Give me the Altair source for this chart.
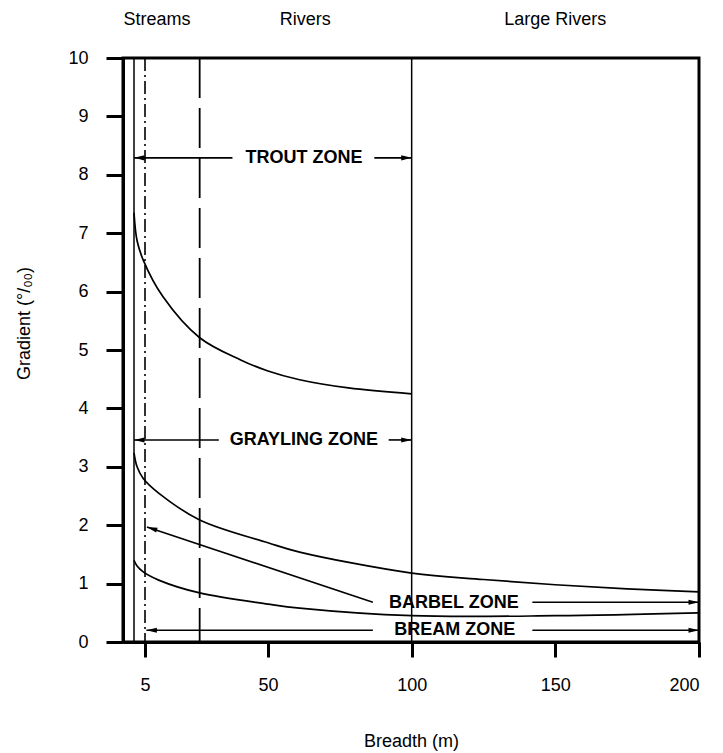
import altair as alt
import pandas as pd

FONT = "Liberation Sans"

# Zone boundary curves: breadth (m) against gradient (per mille)
trout_breadth = [2.5, 3.2, 4.6, 11.6, 25, 40, 50, 61, 78, 100]
trout_gradient = [7.35, 6.87, 6.54, 5.91, 5.21, 4.83, 4.64, 4.49, 4.35, 4.25]

grayling_breadth = [2.5, 3.2, 4.6, 10, 25, 50, 61, 100, 125, 150, 175, 200]
grayling_gradient = [3.24, 3.0, 2.8, 2.55, 2.09, 1.70, 1.54, 1.18, 1.07, 0.98, 0.91, 0.86]

barbel_breadth = [2.5, 3.2, 4.6, 10, 25, 50, 61, 100, 150, 200]
barbel_gradient = [1.40, 1.30, 1.20, 1.06, 0.84, 0.65, 0.58, 0.45, 0.45, 0.50]

# Vertical reference lines (breadth)
solid_lines = [2.5, 100]
dashdot_lines = [5]
dashed_lines = [25]

# Zone names and where they sit
zone_names = ["TROUT ZONE", "GRAYLING ZONE", "BARBEL ZONE", "BREAM ZONE"]
zone_breadth = [62.5, 62.5, 114.7, 115]
zone_gradient = [8.29, 3.46, 0.67, 0.2]

# Arrows: tail -> tip
arrow_tail_b = [37, 87, 32, 92, 86.5, 142, 86.5, 142]
arrow_tail_g = [8.29, 8.29, 3.46, 3.46, 0.68, 0.68, 0.2, 0.2]
arrow_tip_b = [2.5, 100, 2.5, 100, 5.7, 200, 5.5, 200]
arrow_tip_g = [8.29, 8.29, 3.46, 3.46, 1.97, 0.68, 0.2, 0.2]
arrow_dir = ["left", "right", "left", "right", "diag", "right", "left", "right"]

# River size classes above the plot
class_names = ["Streams", "Rivers", "Large Rivers"]
class_breadth = [9.4, 63, 150]

x_ticks = [5, 50, 100, 150, 200]
y_ticks = list(range(0, 11))

curves = pd.concat([
    pd.DataFrame({"breadth": trout_breadth, "gradient": trout_gradient, "curve": "trout"}),
    pd.DataFrame({"breadth": grayling_breadth, "gradient": grayling_gradient, "curve": "grayling"}),
    pd.DataFrame({"breadth": barbel_breadth, "gradient": barbel_gradient, "curve": "barbel"}),
], ignore_index=True)

zones = pd.DataFrame({"name": zone_names, "breadth": zone_breadth, "gradient": zone_gradient})
arrows = pd.DataFrame({
    "b0": arrow_tail_b, "g0": arrow_tail_g,
    "b1": arrow_tip_b, "g1": arrow_tip_g, "dir": arrow_dir,
})
classes = pd.DataFrame({"name": class_names, "breadth": class_breadth})

x_scale = alt.Scale(domain=[0, 5, 50, 200], range=[0, 22, 145, 576], zero=False, nice=False)
y_scale = alt.Scale(domain=[0, 10], nice=False, zero=True)

x_axis = alt.Axis(
    values=x_ticks, title="Breadth (m)", tickSize=15, tickWidth=3, domainWidth=3,
    labelFontSize=18, labelPadding=19, labelFont=FONT, labelColor="black",
    tickColor="black", domainColor="black", grid=False,
    titleFont=FONT, titleFontSize=18, titleFontWeight="normal", titleColor="black",
    titleX=288, titleY=90, titleBaseline="top", titleAlign="center",
)
y_axis = alt.Axis(
    values=y_ticks, title="Gradient  (°/₀₀)", tickSize=17, tickWidth=3, domainWidth=3,
    labelFontSize=18, labelPadding=18, labelFont=FONT, labelColor="black",
    tickColor="black", domainColor="black", grid=False,
    titleFont=FONT, titleFontSize=18, titleFontWeight="normal", titleColor="black",
    titleAngle=270, titleAlign="center", titleBaseline="bottom", titleX=-90, titleY=265,
)


def X(field):
    return alt.X(field, type="quantitative", scale=x_scale, axis=x_axis)


def Y(field):
    return alt.Y(field, type="quantitative", scale=y_scale, axis=y_axis)


curve_layer = alt.Chart(curves).mark_line(
    color="black", strokeWidth=1.7, interpolate="catmull-rom"
).encode(x=X("breadth"), y=Y("gradient"), detail="curve:N")

solid_layer = alt.Chart(pd.DataFrame({"b": solid_lines})).mark_rule(
    color="black", strokeWidth=1.5
).encode(x=X("b"))
dashdot_layer = alt.Chart(pd.DataFrame({"b": dashdot_lines})).mark_rule(
    color="black", strokeWidth=1.6, strokeDash=[13, 4, 2, 4]
).encode(x=X("b"))
dashed_layer = alt.Chart(pd.DataFrame({"b": dashed_lines})).mark_rule(
    color="black", strokeWidth=1.8, strokeDash=[40, 10]
).encode(x=X("b"))

shaft_layer = alt.Chart(arrows).mark_rule(color="black", strokeWidth=1.6).encode(
    x=X("b0"), y=Y("g0"), x2="b1", y2="g1"
)

head_shape = "M0,0L-1,-0.24L-1,0.24Z"
head_angle = {"right": 0, "left": 180, "diag": 198}
head_layers = [
    alt.Chart(arrows[arrows["dir"] == d]).mark_point(
        shape=head_shape, size=440, filled=True, color="black", opacity=1,
        angle=a, strokeWidth=0,
    ).encode(x=X("b1"), y=Y("g1"))
    for d, a in head_angle.items()
]

zone_text = alt.Chart(zones).mark_text(
    font=FONT, fontSize=18, fontWeight="bold", color="black", baseline="middle"
).encode(x=X("breadth"), y=Y("gradient"), text="name:N")

class_text = alt.Chart(classes).mark_text(
    font=FONT, fontSize=18, color="black", baseline="middle"
).encode(x=X("breadth"), y=alt.value(-38), text="name:N")

chart = alt.layer(
    solid_layer, dashdot_layer, dashed_layer, curve_layer, shaft_layer,
    *head_layers, zone_text, class_text,
).properties(
    width=576, height=584,
    autosize=alt.AutoSizeParams(type="none"),
    padding={"left": 123, "top": 58, "right": 24, "bottom": 111},
    background="white",
).configure_view(stroke="black", strokeWidth=3)

chart.save("out.html", embed_options={"renderer": "svg", "actions": False})
